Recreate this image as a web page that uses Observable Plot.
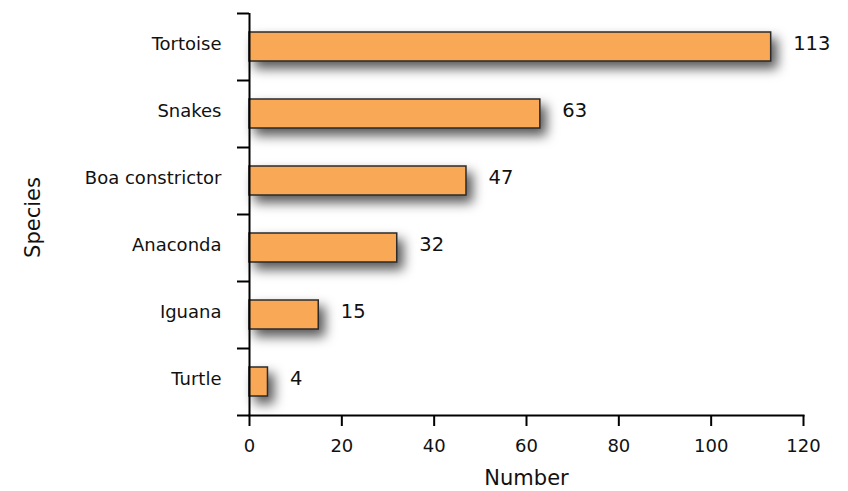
<!DOCTYPE html>
<html>
<head>
<meta charset="utf-8">
<script src="https://cdn.jsdelivr.net/npm/d3@7"></script>
<script src="https://cdn.jsdelivr.net/npm/@observablehq/plot@0.6"></script>
<style>
  body { margin: 0; background: #fff; }
  g[aria-label="bar"] rect { filter: drop-shadow(6px 7px 6px rgba(0,0,0,0.65)); }
</style>
</head>
<body>
<div id="chart"></div>
<script>
const species = ["Tortoise", "Snakes", "Boa constrictor", "Anaconda", "Iguana", "Turtle"];
const counts = [113, 63, 47, 32, 15, 4];
const xTicks = [0, 20, 40, 60, 80, 100, 120];
const xLabel = "Number";
const yLabel = "Species";

const data = species.map((s, i) => ({species: s, count: counts[i]}));
const step = (491 - 13 - 76) / species.length;

const chart = Plot.plot({
  width: 848,
  height: 491,
  marginLeft: 249,
  marginRight: 45,
  marginTop: 13,
  marginBottom: 76,
  style: {fontFamily: "'DejaVu Sans', Verdana, sans-serif", fontSize: "18px", color: "#111", background: "#fff"},
  x: {domain: [0, 120]},
  y: {domain: species, paddingInner: 0.57, paddingOuter: 0.285},
  marks: [
    Plot.barX(data, {x: "count", y: "species", fill: "#f9a855", stroke: "#2b2b2b", strokeWidth: 1.5}),
    Plot.text(data, {x: "count", y: "species", text: d => String(d.count), textAnchor: "start", dx: 22, dy: -3, fontSize: 19.5, fill: "#111"}),
    Plot.ruleX([0], {stroke: "#000", strokeWidth: 2}),
    Plot.axisY({tickSize: 0, tickPadding: 28, fontSize: 18, dy: -3, label: null}),
    Plot.axisY({tickSize: 12, stroke: "#000", strokeWidth: 2, tickFormat: () => "", dy: step / 2, label: null}),
    Plot.axisY([species[0]], {tickSize: 12, stroke: "#000", strokeWidth: 2, tickFormat: () => "", dy: -step / 2, label: null}),
    Plot.axisX(xTicks, {tickSize: 11, tickPadding: 13, fontSize: 18, stroke: "#000", strokeWidth: 2, label: null}),
    Plot.frame({anchor: "bottom", stroke: "#000", strokeWidth: 2}),
    Plot.text([xLabel], {frameAnchor: "bottom", dy: 63, textAnchor: "middle", lineAnchor: "middle", fontSize: 21, fill: "#111"}),
    Plot.text([yLabel], {frameAnchor: "left", dx: -216, dy: 3, rotate: -90, textAnchor: "middle", lineAnchor: "middle", fontSize: 21, fill: "#111"})
  ]
});
document.getElementById("chart").appendChild(chart);
</script>
</body>
</html>
